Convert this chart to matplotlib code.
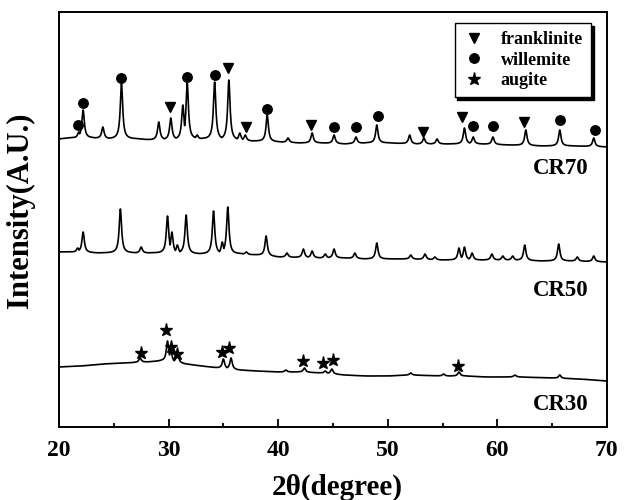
import numpy as np
import matplotlib
matplotlib.use("Agg")
import matplotlib.pyplot as plt
from matplotlib.lines import Line2D

# baselines (2theta, intensity)
cr70_base_x = [20.0, 21.0, 23.0, 25.0, 27.0, 28.5, 33.0, 37.5, 40.0, 42.0, 44.0, 46.0,
               48.0, 50.0, 52.5, 55.0, 58.5, 61.0, 64.0, 67.0, 70.0]
cr70_base_y = [361, 362, 362, 361, 361, 360, 361, 359, 358, 357, 357, 356,
               357, 357, 356, 356, 356, 355, 354, 354, 353]
cr50_base_x = [20.0, 21.0, 23.5, 25.0, 27.0, 28.5, 33.0, 36.5, 38.0, 40.0, 44.0, 46.0,
               48.0, 50.0, 52.0, 55.0, 58.5, 61.0, 64.0, 67.0, 70.0]
cr50_base_y = [248, 248, 247, 247, 247, 247, 246, 246, 245, 243, 242, 242,
               241, 241, 241, 240, 240, 240, 239, 239, 238]
cr30_base_x = [20.0, 22.0, 24.0, 26.0, 28.0, 29.4, 31.5, 33.0, 34.5, 36.3, 38.0, 40.0,
               42.0, 44.0, 46.0, 48.0, 50.0, 52.0, 55.0, 57.0, 59.0, 62.0, 65.0, 67.5, 70.0]
cr30_base_y = [133, 134, 136, 137, 138, 139, 136, 134, 132, 130, 129, 128,
               128, 127, 125, 124, 124, 125, 124, 124, 123, 123, 122, 121, 119]

# peak positions and tops
cr70_peak_x = [21.8, 22.2, 24.0, 25.7, 29.1, 30.2, 31.3, 31.7, 32.6, 34.2, 35.5, 36.5,
               37.0, 39.0, 40.9, 43.1, 45.1, 47.1, 49.0, 52.0, 53.3, 54.5, 57.0, 57.8,
               59.6, 62.6, 65.7, 68.8]
cr70_peak_y = [368, 390, 373, 417, 378, 382, 395, 417, 365, 418, 420, 367,
               365, 385, 362, 367, 365, 363, 375, 365, 362, 361, 372, 363,
               363, 370, 370, 362]
cr50_peak_x = [21.7, 22.2, 25.6, 27.5, 29.9, 30.3, 30.8, 31.6, 34.1, 34.9, 35.4, 37.1,
               38.9, 40.8, 42.3, 43.1, 44.3, 45.1, 47.0, 49.0, 52.1, 53.4, 54.3, 56.5,
               57.0, 57.7, 59.5, 60.5, 61.4, 62.5, 65.6, 67.3, 68.8]
cr50_peak_y = [252, 268, 291, 253, 284, 268, 255, 285, 289, 258, 293, 248,
               264, 247, 251, 249, 246, 251, 247, 257, 245, 246, 243, 252,
               253, 247, 246, 244, 244, 255, 256, 243, 244]
cr30_peak_x = [27.4, 29.9, 30.2, 30.8, 35.0, 35.7, 40.7, 42.4, 44.3, 44.9, 52.1, 55.1,
               56.5, 61.6, 65.7]
cr30_peak_y = [142, 159, 150, 148, 141, 142, 130, 132, 129, 131, 127, 126,
               128, 125, 125]

# phase markers
franklinite_x = [30.1, 35.45, 37.05, 43.0, 53.25, 56.8, 62.4]
franklinite_y = [393, 432, 373, 375, 368, 383, 378]
willemite_x = [21.7, 22.2, 25.7, 31.65, 34.2, 38.95, 45.1, 47.1, 49.1, 57.8, 59.6, 65.75, 68.9]
willemite_y = [375, 397, 422, 423, 425, 391, 373, 373, 384, 374, 374, 380, 370]
augite_x = [27.5, 29.8, 30.25, 30.8, 34.9, 35.55, 42.25, 44.1, 45.0, 56.4]
augite_y = [147, 170, 153, 146, 148, 152, 139, 137, 140, 134]

serif = ["Liberation Serif", "DejaVu Serif"]


def trace(base_x, base_y, peak_x, peak_y, width=0.13):
    x = np.arange(20.0, 70.001, 0.02)
    base = np.interp(x, base_x, base_y)
    bump = np.zeros_like(x)
    for p, top in zip(peak_x, peak_y):
        h = top - np.interp(p, base_x, base_y)
        bump = np.maximum(bump, h / (1 + ((x - p) / width) ** 2))
    return x, base + bump


fig = plt.figure(figsize=(6.24, 5.0), dpi=100)
ax = fig.add_axes([0.0946, 0.146, 0.878, 0.830])

for bx, by, px, py in [(cr70_base_x, cr70_base_y, cr70_peak_x, cr70_peak_y),
                       (cr50_base_x, cr50_base_y, cr50_peak_x, cr50_peak_y),
                       (cr30_base_x, cr30_base_y, cr30_peak_x, cr30_peak_y)]:
    x, y = trace(bx, by, px, py)
    ax.plot(x, y, color="black", linewidth=1.2)

ax.plot(franklinite_x, franklinite_y, "v", color="black", markersize=7.5, linestyle="none")
ax.plot(willemite_x, willemite_y, "o", color="black", markersize=6.8, linestyle="none")
ax.plot(augite_x, augite_y, "*", color="black", markersize=9.5, linestyle="none")

for label, yy in [("CR70", 332), ("CR50", 210), ("CR30", 95)]:
    ax.text(68.3, yy, label, ha="right", va="center", fontsize=16.5,
            fontweight="bold", family=serif)

ax.set_xlim(20, 70)
ax.set_ylim(73, 488)
ax.set_xticks([20, 30, 40, 50, 60, 70])
ax.set_xticks([25, 35, 45, 55, 65], minor=True)
ax.set_yticks([])
ax.tick_params(axis="x", which="major", direction="in", length=6, width=1.3, pad=9)
ax.tick_params(axis="x", which="minor", direction="in", length=3, width=1.3)
for lab in ax.get_xticklabels():
    lab.set_fontsize(17)
    lab.set_fontweight("bold")
    lab.set_family(serif)
for sp in ax.spines.values():
    sp.set_linewidth(1.4)

ax.set_xlabel("2θ(degree)", fontsize=21, fontweight="bold", family=serif, va="center")
ax.xaxis.set_label_coords(0.507, -0.145)
ax.set_ylabel("Intensity(A.U.)", fontsize=22, fontweight="bold", family=serif, va="center")
ax.yaxis.set_label_coords(-0.071, 0.523)

handles = [
    Line2D([], [], marker="v", color="black", linestyle="none", markersize=7.5),
    Line2D([], [], marker="o", color="black", linestyle="none", markersize=6.8),
    Line2D([], [], marker="*", color="black", linestyle="none", markersize=9.5),
]
leg = ax.legend(handles, ["franklinite", "willemite", "augite"], loc="upper right",
                bbox_to_anchor=(0.971, 0.9735), borderaxespad=0, fancybox=False,
                shadow={"color": "black", "alpha": 1}, edgecolor="black",
                framealpha=1, handlelength=1.2, handletextpad=0.9, labelspacing=0.2,
                borderpad=0.45, prop={"family": serif, "weight": "bold", "size": 13})
leg.get_frame().set_linewidth(1.0)

fig.savefig("out.png", dpi=100)
